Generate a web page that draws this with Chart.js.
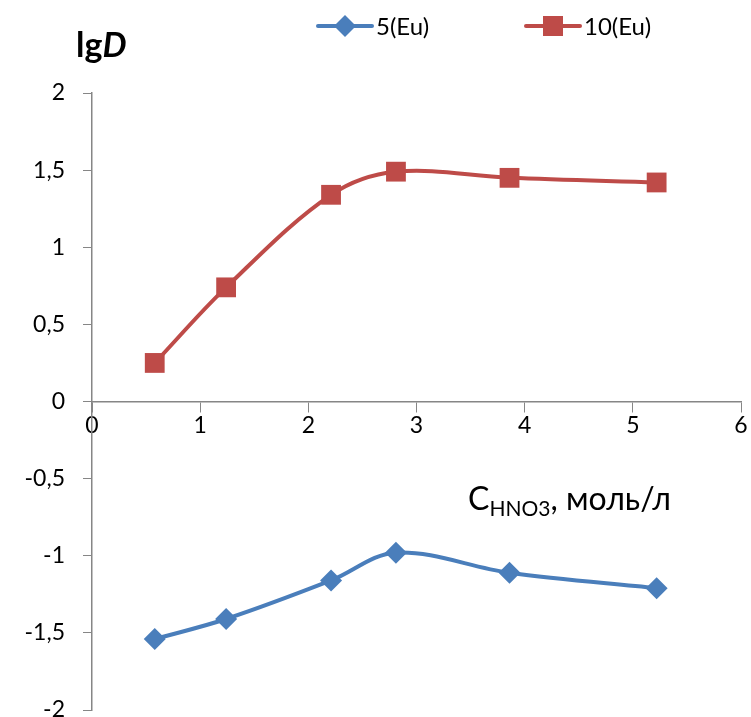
<!DOCTYPE html>
<html>
<head>
<meta charset="utf-8">
<script src="https://cdn.jsdelivr.net/npm/chart.js"></script>
<style>
  body { margin: 0; background: #fff; overflow: hidden; }
  #wrap { width: 751px; height: 717px; overflow: hidden; }
</style>
</head>
<body>
<div id="wrap"><canvas id="chart" width="755" height="724"></canvas></div>
<script>
// HNO3 concentration, mol/l
const concentrations = [0.58, 1.24, 2.21, 2.81, 3.86, 5.22];
// lgD values
const eu5 = [-1.54, -1.41, -1.16, -0.98, -1.11, -1.21];
const eu10 = [0.25, 0.74, 1.34, 1.49, 1.45, 1.42];
const seriesNames = ["5(Eu)", "10(Eu)"];
const yTicks = [-2, -1.5, -1, -0.5, 0, 0.5, 1, 1.5, 2];
const xTicks = [0, 1, 2, 3, 4, 5, 6];

const BLUE = "#4a7ebb";
const RED = "#be4b48";
const AXIS = "#868686";
const FONT = "Lato, 'Open Sans', sans-serif";

const toPoints = (ys) => concentrations.map((x, i) => ({ x: x, y: ys[i] }));
const comma = (v) => String(v).replace(".", ",");

function drawMarker(ctx, style, color, x, y) {
  ctx.save();
  ctx.fillStyle = color;
  ctx.beginPath();
  if (style === "rect") {
    ctx.rect(x - 10, y - 10, 20, 20);
  } else {
    ctx.moveTo(x, y - 11);
    ctx.lineTo(x + 11, y);
    ctx.lineTo(x, y + 11);
    ctx.lineTo(x - 11, y);
    ctx.closePath();
  }
  ctx.fill();
  ctx.restore();
}

// legend + axis captions drawn like the Excel original
const extras = {
  id: "extras",
  afterDraw(chart) {
    const ctx = chart.ctx;
    ctx.save();

    // legend
    ctx.font = "24px " + FONT;
    ctx.textBaseline = "middle";
    let x = 318;
    const ly = 26;
    chart.data.datasets.forEach((ds) => {
      ctx.strokeStyle = ds.borderColor;
      ctx.lineWidth = 4;
      ctx.lineCap = "round";
      ctx.beginPath();
      ctx.moveTo(x, ly);
      ctx.lineTo(x + 54, ly);
      ctx.stroke();
      drawMarker(ctx, ds.pointStyle, ds.backgroundColor, x + 27, ly);
      ctx.fillStyle = "#000";
      ctx.textAlign = "left";
      ctx.fillText(ds.label, x + 58, ly + 1);
      x += 208;
    });

    // lgD
    ctx.textBaseline = "alphabetic";
    ctx.fillStyle = "#000";
    ctx.font = "bold 34px " + FONT;
    ctx.fillText("lg", 76, 57);
    const w = ctx.measureText("lg").width;
    ctx.font = "italic bold 34px " + FONT;
    ctx.fillText("D", 76 + w, 57);

    // C_HNO3, моль/л
    let cx = 468;
    const by = 510;
    ctx.font = "32px " + FONT;
    ctx.fillText("C", cx, by);
    cx += ctx.measureText("C").width;
    ctx.font = "21px " + FONT;
    ctx.fillText("HNO3", cx, by + 6);
    cx += ctx.measureText("HNO3").width;
    ctx.font = "32px " + FONT;
    ctx.fillText(", моль/л", cx, by);

    ctx.restore();
  }
};

new Chart(document.getElementById("chart"), {
  type: "scatter",
  data: {
    datasets: [
      {
        label: seriesNames[0],
        data: toPoints(eu5),
        showLine: true,
        borderColor: BLUE,
        backgroundColor: BLUE,
        borderWidth: 4,
        tension: 0.35,
        pointStyle: "rectRot",
        pointRadius: 11,
        pointBorderWidth: 0,
        pointBackgroundColor: BLUE
      },
      {
        label: seriesNames[1],
        data: toPoints(eu10),
        showLine: true,
        borderColor: RED,
        backgroundColor: RED,
        borderWidth: 4,
        tension: 0.35,
        pointStyle: "rect",
        pointRadius: 14,
        pointBorderWidth: 0,
        pointBackgroundColor: RED
      }
    ]
  },
  options: {
    responsive: false,
    animation: false,
    layout: { padding: { top: 93, bottom: 3, right: 10, left: 0 } },
    plugins: {
      legend: { display: false },
      tooltip: { enabled: false }
    },
    scales: {
      x: {
        type: "linear",
        position: { y: 0 },
        min: 0,
        max: 6,
        afterBuildTicks: (scale) => { scale.ticks = xTicks.map((v) => ({ value: v })); },
        afterFit: (scale) => { scale.paddingLeft = 0; scale.paddingRight = 0; },
        ticks: {
          color: "#000",
          font: { family: FONT, size: 23 },
          padding: 0,
          maxRotation: 0,
          callback: (v) => comma(v)
        },
        grid: { drawOnChartArea: false, drawTicks: true, tickLength: 10, color: AXIS, lineWidth: 1 },
        border: { display: true, color: AXIS, width: 1.5 }
      },
      y: {
        type: "linear",
        position: "left",
        min: -2,
        max: 2,
        afterBuildTicks: (scale) => { scale.ticks = yTicks.map((v) => ({ value: v })); },
        afterFit: (scale) => {
          scale.width = 92;
          scale.paddingTop = 0;
          scale.paddingBottom = 0;
        },
        ticks: {
          color: "#000",
          font: { family: FONT, size: 23 },
          padding: 18,
          callback: (v) => comma(v)
        },
        grid: { drawOnChartArea: false, drawTicks: true, tickLength: 9, color: AXIS, lineWidth: 1 },
        border: { display: true, color: AXIS, width: 1.5 }
      }
    }
  },
  plugins: [extras]
});
</script>
</body>
</html>
